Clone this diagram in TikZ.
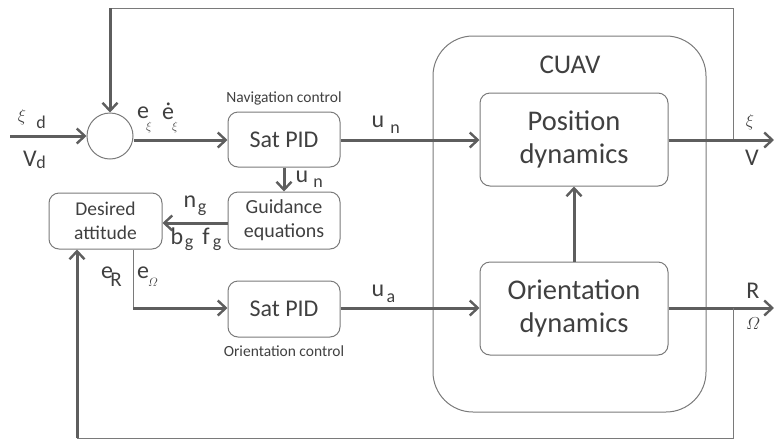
\documentclass[tikz,border=0pt]{standalone}
\usepackage{amsmath}
\usepackage{fontspec}
\setmainfont{Carlito}
\usetikzlibrary{arrows.meta}
\definecolor{ln}{HTML}{5E5E5E}
\definecolor{tx}{HTML}{404040}
\definecolor{thn}{HTML}{7A7A7A}
\newcommand\fsz[1]{\fontsize{#1}{#1}\selectfont}
\begin{document}
\begin{tikzpicture}[x=1pt,y=-1pt,
  thk/.style={line width=3pt, draw=ln},
  thinln/.style={line width=1pt, draw=thn},
  arr/.style={thk, -{Straight Barb[length=8pt,width=15pt,line width=2.4pt]}},
  blk/.style={draw=thn, line width=1pt, rounded corners=10pt, text=tx, align=center, inner sep=0pt},
  lab/.style={text=tx, inner sep=0pt, anchor=center},
  captxt/.style={text=tx, inner sep=0pt, font=\fsz{15.5}}]
\useasboundingbox (0,0) rectangle (774,440);
% blocks
\node[draw=thn, line width=1pt, rounded corners=40pt, minimum width=273pt, minimum height=376pt, inner sep=0pt] (cuav) at (569.5,224) {};
\node[lab, font=\fsz{27}] (cuavt) at (570,65) {CUAV};
\node[blk, minimum width=112pt, minimum height=55pt, font=\fsz{24}] (navpid) at (284,139.5) {Sat PID};
\node[blk, minimum width=112pt, minimum height=57pt, font=\fsz{20}, execute at begin node=\setlength{\baselineskip}{24pt}] (guid) at (284,220.5) {Guidance\\equations};
\node[blk, minimum width=113pt, minimum height=56pt, font=\fsz{19.5}, execute at begin node=\setlength{\baselineskip}{24pt}] (des) at (105.5,221) {Desired\\attitude};
\node[blk, minimum width=112pt, minimum height=56pt, font=\fsz{24}] (oripid) at (284,309) {Sat PID};
\node[blk, minimum width=188pt, minimum height=93pt, font=\fsz{28.5}, execute at begin node=\setlength{\baselineskip}{33pt}] (posdyn) at (574,139.5) {Position\\dynamics};
\node[blk, minimum width=188pt, minimum height=93pt, font=\fsz{28.5}, execute at begin node=\setlength{\baselineskip}{33pt}] (oridyn) at (574,308.5) {Orientation\\dynamics};
\node[draw=thn, line width=1pt, circle, minimum size=46pt, inner sep=0pt] (sum) at (110,136) {};
\node[captxt] (navc) at (284,98) {Navigation control};
\node[captxt] (oric) at (284,351) {Orientation control};
% coordinates
\coordinate (in) at (10,136);
\coordinate (top) at (110,8);
\coordinate (tr) at (733,8);
\coordinate (br1) at (733,140);
\coordinate (out1) at (774,140);
\coordinate (out2) at (774,308);
\coordinate (br2) at (733,308);
\coordinate (bb) at (733,438);
\coordinate (bl) at (77,438);
\coordinate (dsplit) at (133,308);
% connectors
\draw[arr] (in) -- (sum.west);
\draw[thinln] (br1) -- (tr) -- (top);
\draw[arr] (top) -- (sum.north);
\draw[arr] (sum.east |- 0,140) -- (navpid.west |- 0,140);
\draw[arr] (navpid.east |- 0,140) -- (posdyn.west |- 0,140);
\draw[arr] (posdyn.east |- 0,140) -- (out1);
\draw[arr] (navpid.south) -- (guid.north);
\draw[arr] (guid.west |- 0,223) -- (des.east |- 0,223);
\draw[thinln] (des.south -| dsplit) -- (dsplit);
\draw[arr] (dsplit) -- (oripid.west |- dsplit);
\draw[arr] (oripid.east |- 0,308) -- (oridyn.west |- 0,308);
\draw[arr] (oridyn.north) -- (posdyn.south);
\draw[arr] (oridyn.east |- 0,308) -- (out2);
\draw[thinln] (br2) -- (bb) -- (bl);
\draw[arr] (bl) -- (des.south -| bl);
% labels
\node[lab, font=\fsz{17}] (xid) at (22,117) {$\xi$};
\node[lab, font=\fsz{18}] (xidd) at (41,122) {d};
\node[lab, font=\fsz{24}] (vd) at (30,159) {V};
\node[lab, font=\fsz{18}] (vdd) at (41,162) {d};
\node[lab, font=\fsz{24}] (e1) at (143,113) {e};
\node[lab, font=\fsz{12}] (e1s) at (149,127) {$\xi$};
\node[lab, font=\fsz{24}] (e2) at (168,111) {ė};
\node[lab, font=\fsz{12}] (e2s) at (175,127) {$\xi$};
\node[lab, font=\fsz{24}] (un1) at (378,122) {u};
\node[lab, font=\fsz{18}] (un1s) at (395,129) {n};
\node[lab, font=\fsz{24}] (un2) at (302,177) {u};
\node[lab, font=\fsz{18}] (un2s) at (318,183) {n};
\node[lab, font=\fsz{24}] (ng) at (190,202) {n};
\node[lab, font=\fsz{18}] (ngs) at (202,210) {g};
\node[lab, font=\fsz{24}] (bg) at (177,236) {b};
\node[lab, font=\fsz{18}] (bgs) at (189,245) {g};
\node[lab, font=\fsz{24}] (fg) at (206,236) {f};
\node[lab, font=\fsz{18}] (fgs) at (217,245) {g};
\node[lab, font=\fsz{24}] (er) at (107,273) {e};
\node[lab, font=\fsz{21}] (ers) at (116,280) {R};
\node[lab, font=\fsz{24}] (eo) at (143,273) {e};
\node[lab, font=\fsz{13}] (eos) at (153,282) {$\varOmega$};
\node[lab, font=\fsz{24}] (ua) at (378,291) {u};
\node[lab, font=\fsz{18}] (uas) at (391,298) {a};
\node[lab, font=\fsz{17}] (xo) at (750,122) {$\xi$};
\node[lab, font=\fsz{24}] (vo) at (752,158) {V};
\node[lab, font=\fsz{24}] (ro) at (753,291) {R};
\node[lab, font=\fsz{17}] (oo) at (753,324) {$\varOmega$};
\end{tikzpicture}
\end{document}
